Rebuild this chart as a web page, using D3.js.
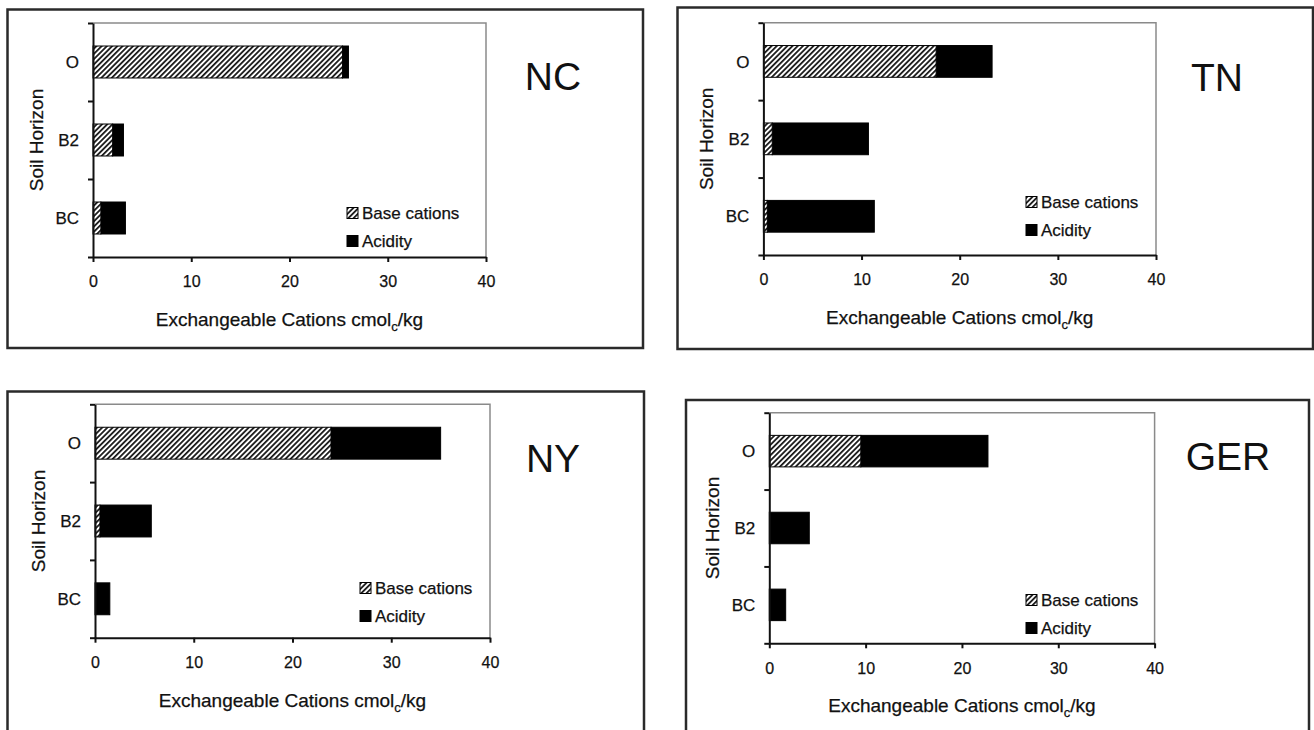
<!DOCTYPE html>
<html>
<head>
<meta charset="utf-8">
<script src="https://cdn.jsdelivr.net/npm/d3@7"></script>
<style>
  body { margin: 0; background: #fff; }
  svg text { font-family: "Liberation Sans", Arial, sans-serif; fill: #111; stroke: #111; stroke-width: 0.25px; }
  svg text.title { stroke-width: 0; }
</style>
</head>
<body>
<div id="chart"></div>
<script>
// data (cmolc/kg)
var regions  = ["NC", "TN", "NY", "GER"];
var horizons = ["O", "B2", "BC"];
var xTicks   = [0, 10, 20, 30, 40];

var baseCations = [
  [25.4, 2.0, 0.8],   // NC
  [17.6, 0.9, 0.4],   // TN
  [23.9, 0.5, 0.0],   // NY
  [9.5, 0.0, 0.0]     // GER
];
var acidity = [
  [0.6, 1.1, 2.5],
  [5.7, 9.8, 10.9],
  [11.1, 5.2, 1.5],
  [13.2, 4.15, 1.7]
];

// panel geometry (outer box, plot area, title centre, legend anchor)
var layout = [
  {box: [7.5, 9.5, 643, 348],   plot: [93, 486, 23, 257],        title: [553, 76],  legend: [347, 213]},
  {box: [677.5, 7.5, 1313, 349], plot: [763.4, 1156, 22.7, 255],  title: [1217, 77], legend: [1026, 202]},
  {box: [7.5, 391.5, 644, 745], plot: [95, 490, 404.3, 637.7],    title: [553, 458], legend: [360, 588]},
  {box: [686, 400, 1309, 745],  plot: [769.3, 1154.6, 412.7, 643.3], title: [1228, 456], legend: [1026, 600]}
];

var width = 1314, height = 730;

var svg = d3.select("#chart")
    .append("svg")
    .attr("width", width)
    .attr("height", height);

// diagonal hatch for base cations
var defs = svg.append("defs");
defs.append("pattern")
    .attr("id", "hatch")
    .attr("patternUnits", "userSpaceOnUse")
    .attr("width", 3.7)
    .attr("height", 3.7)
    .attr("patternTransform", "rotate(45)")
  .call(function(p) {
    p.append("rect").attr("width", 3.7).attr("height", 3.7).attr("fill", "#fff");
    p.append("line")
        .attr("x1", 0.9).attr("y1", 0)
        .attr("x2", 0.9).attr("y2", 3.7)
        .attr("stroke", "#1a1a1a")
        .attr("stroke-width", 1.8);
  });

regions.forEach(function(region, i) {
  var L = layout[i];
  var g = svg.append("g").attr("class", "panel");

  // outer frame
  g.append("rect")
      .attr("x", L.box[0]).attr("y", L.box[1])
      .attr("width", L.box[2] - L.box[0])
      .attr("height", L.box[3] - L.box[1])
      .attr("fill", "none")
      .attr("stroke", "#2a2a2a")
      .attr("stroke-width", 2.5);

  var x = d3.scaleLinear().domain([0, 40]).range([L.plot[0], L.plot[1]]);
  var y = d3.scaleBand()
      .domain(horizons)
      .range([L.plot[2], L.plot[3]])
      .paddingInner(0.59)
      .paddingOuter(0.295);
  var yEdge = d3.scaleLinear().domain([0, horizons.length]).range([L.plot[2], L.plot[3]]);

  // plot area frame (top & right in grey)
  g.append("path")
      .attr("d", "M" + x(0) + "," + L.plot[2] + "H" + x(40) + "V" + L.plot[3])
      .attr("fill", "none")
      .attr("stroke", "#8a8a8a")
      .attr("stroke-width", 1.5);

  // bars
  var rows = horizons.map(function(h, j) {
    return {h: h, base: baseCations[i][j], acid: acidity[i][j]};
  });

  g.selectAll(".acid")
      .data(rows)
    .enter().append("rect")
      .attr("class", "acid")
      .attr("x", function(d) { return x(d.base); })
      .attr("y", function(d) { return y(d.h); })
      .attr("width", function(d) { return x(d.base + d.acid) - x(d.base); })
      .attr("height", y.bandwidth())
      .attr("fill", "#000")
      .attr("stroke", "#000")
      .attr("stroke-width", 1);

  g.selectAll(".base")
      .data(rows.filter(function(d) { return d.base > 0; }))
    .enter().append("rect")
      .attr("class", "base")
      .attr("x", x(0))
      .attr("y", function(d) { return y(d.h); })
      .attr("width", function(d) { return x(d.base) - x(0); })
      .attr("height", y.bandwidth())
      .attr("fill", "url(#hatch)")
      .attr("stroke", "#000")
      .attr("stroke-width", 1);

  // x axis
  var xAxis = g.append("g")
      .attr("transform", "translate(0," + L.plot[3] + ")")
      .call(d3.axisBottom(x).tickValues(xTicks).tickSize(5).tickSizeOuter(0).tickPadding(14));
  xAxis.select(".domain").attr("stroke", "#111").attr("stroke-width", 2);
  xAxis.selectAll(".tick line").attr("stroke", "#111").attr("stroke-width", 2);
  xAxis.selectAll(".tick text")
      .style("font-family", '"Liberation Sans", Arial, sans-serif')
      .style("font-size", "16px")
      .attr("fill", "#111");

  // y axis: ticks at category boundaries
  var yAxis = g.append("g")
      .attr("transform", "translate(" + x(0) + ",0)")
      .call(d3.axisLeft(yEdge).ticks(horizons.length).tickSize(5).tickSizeOuter(0).tickFormat(""));
  yAxis.select(".domain").attr("stroke", "#111").attr("stroke-width", 2);
  yAxis.selectAll(".tick line").attr("stroke", "#111").attr("stroke-width", 2);

  // category labels
  g.selectAll(".cat")
      .data(horizons)
    .enter().append("text")
      .attr("class", "cat")
      .attr("x", x(0) - 14)
      .attr("y", function(h) { return y(h) + y.bandwidth() / 2; })
      .attr("dy", "0.36em")
      .attr("text-anchor", "end")
      .style("font-size", "17px")
      .text(function(h) { return h; });

  // axis titles
  var xt = g.append("text")
      .attr("x", (x(0) + x(40)) / 2)
      .attr("y", L.plot[3] + 62)
      .attr("dy", "0.36em")
      .attr("text-anchor", "middle")
      .style("font-size", "19px");
  xt.append("tspan").text("Exchangeable Cations cmol");
  xt.append("tspan").attr("dy", "5").style("font-size", "13px").text("c");
  xt.append("tspan").attr("dy", "-5").text("/kg");

  g.append("text")
      .attr("transform", "translate(" + (x(0) - 57) + "," + ((L.plot[2] + L.plot[3]) / 2) + ") rotate(-90)")
      .attr("dy", "0.36em")
      .attr("text-anchor", "middle")
      .style("font-size", "19px")
      .text("Soil Horizon");

  // region title
  g.append("text")
      .attr("class", "title")
      .attr("x", L.title[0])
      .attr("y", L.title[1])
      .attr("dy", "0.36em")
      .attr("text-anchor", "middle")
      .style("font-size", "39px")
      .text(region);

  // legend
  var legendItems = [
    {label: "Base cations", fill: "url(#hatch)"},
    {label: "Acidity", fill: "#000"}
  ];
  var lg = g.selectAll(".legend")
      .data(legendItems)
    .enter().append("g")
      .attr("class", "legend")
      .attr("transform", function(d, k) {
        return "translate(" + L.legend[0] + "," + (L.legend[1] + k * 28) + ")";
      });
  lg.append("rect")
      .attr("x", 0).attr("y", -5.5)
      .attr("width", 11).attr("height", 11)
      .attr("fill", function(d) { return d.fill; })
      .attr("stroke", "#000")
      .attr("stroke-width", 1);
  lg.append("text")
      .attr("x", 15)
      .attr("dy", "0.36em")
      .style("font-size", "17px")
      .text(function(d) { return d.label; });
});
</script>
</body>
</html>
